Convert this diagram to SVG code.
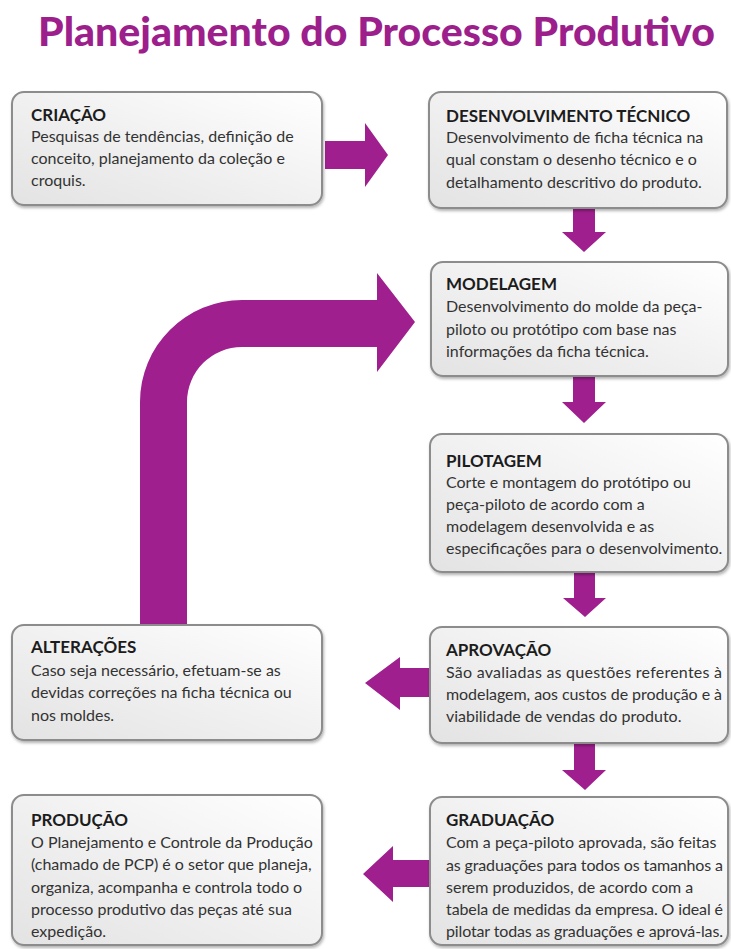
<svg xmlns="http://www.w3.org/2000/svg" width="731" height="949" viewBox="0 0 731 949">
<defs>
<linearGradient id="boxg" x1="0" y1="1" x2="1" y2="0">
<stop offset="0" stop-color="#e3e3e3"/>
<stop offset="0.55" stop-color="#f2f2f2"/>
<stop offset="1" stop-color="#ffffff"/>
</linearGradient>
<filter id="sh" x="-5%" y="-5%" width="110%" height="115%">
<feDropShadow dx="1" dy="2" stdDeviation="1.5" flood-color="#000" flood-opacity="0.3"/>
</filter>
</defs>
<style>
.box{fill:url(#boxg);stroke:#8c8c8c;stroke-width:2;filter:url(#sh)}
.h{font-family:Lato,"Open Sans","Liberation Sans",sans-serif;font-weight:700;font-size:17px;fill:#1c1c1c}
.t{font-family:Lato,"Open Sans","Liberation Sans",sans-serif;font-size:16px;fill:#333}
.arr{fill:#9f1f8e}
.title{font-family:Lato,"Open Sans","Liberation Sans",sans-serif;font-weight:900;font-size:40px;fill:#9c1f8c}
</style>
<rect width="731" height="949" fill="#fff"/>
<text class="title" x="38" y="46" textLength="677" lengthAdjust="spacingAndGlyphs">Planejamento do Processo Produtivo</text>

<g id="connectors">
<path class="arr" d="M140 625 L140 402 A102 102 0 0 1 242 300 L377 300 L377 273 L415 322 L377 372 L377 347 L242 347 A55 55 0 0 0 187 402 L187 625 Z"/>
<path class="arr" d="M325 141 L365 141 L365 123 L388 155 L365 187 L365 169 L325 169 Z"/>
<path class="arr" d="M573 208 L595 208 L595 232 L606 232 L584 252 L562 232 L573 232 Z"/>
<path class="arr" d="M573 376 L595 376 L595 402 L606 402 L584 423 L562 402 L573 402 Z"/>
<path class="arr" d="M574 572 L595 572 L595 598 L606 598 L585 617 L563 598 L574 598 Z"/>
<path class="arr" d="M574 743 L595 743 L595 770 L606 770 L585 790 L562 770 L574 770 Z"/>
<path class="arr" d="M430 668 L400 668 L400 657 L365 683 L400 710 L400 697 L430 697 Z"/>
<path class="arr" d="M430 860 L393 860 L393 846 L363 874 L393 902 L393 887 L430 887 Z"/>
</g>

<g id="criacao">
<rect class="box" x="12" y="92" width="310" height="113" rx="12"/>
<text class="h" x="31" y="121">CRIAÇÃO</text>
<text class="t" x="31" y="142">Pesquisas de tendências, definição de</text>
<text class="t" x="31" y="164">conceito, planejamento da coleção e</text>
<text class="t" x="31" y="186">croquis.</text>
</g>

<g id="desenvolvimento">
<rect class="box" x="429" y="92" width="298" height="116" rx="12"/>
<text class="h" x="446" y="122">DESENVOLVIMENTO TÉCNICO</text>
<text class="t" x="446" y="143">Desenvolvimento de ficha técnica na</text>
<text class="t" x="446" y="165">qual constam o desenho técnico e o</text>
<text class="t" x="446" y="188">detalhamento descritivo do produto.</text>
</g>

<g id="modelagem">
<rect class="box" x="431" y="262" width="297" height="114" rx="12"/>
<text class="h" x="446" y="290">MODELAGEM</text>
<text class="t" x="446" y="312">Desenvolvimento do molde da peça-</text>
<text class="t" x="446" y="335">piloto ou protótipo com base nas</text>
<text class="t" x="446" y="357">informações da ficha técnica.</text>
</g>

<g id="pilotagem">
<rect class="box" x="430" y="434" width="298" height="138" rx="12"/>
<text class="h" x="446" y="467">PILOTAGEM</text>
<text class="t" x="446" y="488">Corte e montagem do protótipo ou</text>
<text class="t" x="446" y="510">peça-piloto de acordo com a</text>
<text class="t" x="446" y="532">modelagem desenvolvida e as</text>
<text class="t" x="446" y="554">especificações para o desenvolvimento.</text>
</g>

<g id="alteracoes">
<rect class="box" x="12" y="625" width="310" height="115" rx="12"/>
<text class="h" x="31" y="653">ALTERAÇÕES</text>
<text class="t" x="31" y="676">Caso seja necessário, efetuam-se as</text>
<text class="t" x="31" y="698">devidas correções na ficha técnica ou</text>
<text class="t" x="31" y="721">nos moldes.</text>
</g>

<g id="aprovacao">
<rect class="box" x="430" y="627" width="298" height="116" rx="12"/>
<text class="h" x="446" y="656">APROVAÇÃO</text>
<text class="t" x="446" y="678" textLength="276" lengthAdjust="spacing">São avaliadas as questões referentes à</text>
<text class="t" x="446" y="700" textLength="276" lengthAdjust="spacing">modelagem, aos custos de produção e à</text>
<text class="t" x="446" y="722">viabilidade de vendas do produto.</text>
</g>

<g id="producao">
<rect class="box" x="12" y="795" width="310" height="150" rx="12"/>
<text class="h" x="31" y="826">PRODUÇÃO</text>
<text class="t" x="31" y="848">O Planejamento e Controle da Produção</text>
<text class="t" x="31" y="870">(chamado de PCP) é o setor que planeja,</text>
<text class="t" x="31" y="893">organiza, acompanha e controla todo o</text>
<text class="t" x="31" y="915">processo produtivo das peças até sua</text>
<text class="t" x="31" y="937">expedição.</text>
</g>

<g id="graduacao">
<rect class="box" x="430" y="797" width="298" height="148" rx="12"/>
<text class="h" x="446" y="826">GRADUAÇÃO</text>
<text class="t" x="446" y="848">Com a peça-piloto aprovada, são feitas</text>
<text class="t" x="446" y="871" textLength="277" lengthAdjust="spacing">as graduações para todos os tamanhos a</text>
<text class="t" x="446" y="893">serem produzidos, de acordo com a</text>
<text class="t" x="446" y="915" textLength="277" lengthAdjust="spacing">tabela de medidas da empresa. O ideal é</text>
<text class="t" x="446" y="937" textLength="277" lengthAdjust="spacing">pilotar todas as graduações e aprová-las.</text>
</g>
</svg>
